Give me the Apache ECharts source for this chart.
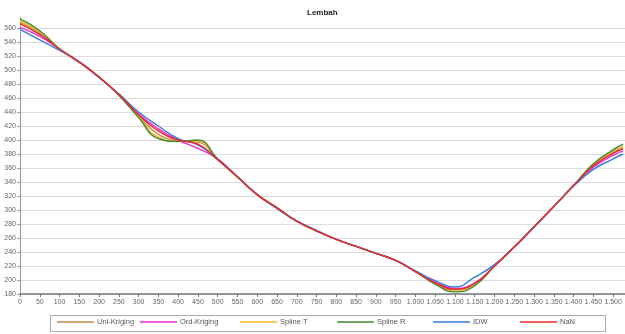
<!DOCTYPE html>
<html>
<head>
<meta charset="utf-8">
<script src="https://cdn.jsdelivr.net/npm/echarts@6/dist/echarts.min.js"></script>
<style>
  html, body { margin: 0; padding: 0; background: #fff; }
  #chart { width: 625px; height: 334px; }
</style>
</head>
<body>
<div id="chart"></div>
<script>
// Distance along the profile (m)
const distance = [0, 50, 100, 150, 200, 250, 300, 350, 400, 450, 500, 550, 600, 650, 700, 750,
  800, 850, 900, 950, 1000, 1050, 1100, 1150, 1200, 1250, 1300, 1350, 1400, 1450, 1500, 1525];

// Elevation per interpolation method
const uniKriging = [568, 553, 530, 511, 490, 464, 434, 408, 399, 397, 372, 347, 322, 303, 284, 270,
  258, 248, 238, 228, 212, 196, 186, 195, 220, 247, 276, 305, 335, 363, 382, 389];
const ordKriging = [561, 548, 530, 511, 490, 465, 437, 416, 400, 388, 373, 347, 322, 303, 284, 270,
  258, 248, 238, 228, 212, 197, 188, 196, 220, 247, 276, 305, 335, 361, 378, 384];
const splineT = [570, 554, 530, 511, 490, 464, 433, 404, 398, 398, 372, 347, 322, 303, 284, 270,
  258, 248, 238, 228, 212, 195, 185, 194, 220, 247, 276, 305, 335, 364, 384, 391];
const splineR = [573, 556, 530, 511, 490, 464, 432, 402, 398, 400, 373, 347, 322, 303, 284, 270,
  258, 248, 238, 228, 212, 194, 183, 192, 220, 247, 276, 305, 335, 366, 386, 394];
const idw = [558, 543, 528, 512, 489, 466, 440, 420, 402, 393, 372, 348, 322, 302, 284, 271,
  258, 248, 238, 228, 213, 199, 190, 204, 222, 247, 276, 305, 334, 358, 373, 380];
const nan = [566, 551, 530, 511, 490, 465, 436, 413, 400, 394, 372, 347, 322, 303, 284, 270,
  258, 248, 238, 228, 212, 196, 187, 195, 220, 247, 276, 305, 335, 363, 381, 387];

const seriesNames = ['Uni-Kriging', 'Ord-Kriging', 'Spline T', 'Spline R', 'IDW', 'NaN'];
const seriesValues = [uniKriging, ordKriging, splineT, splineR, idw, nan];
const seriesColors = ['#c98a4b', '#ea2fd0', '#f4b52c', '#3d8a2c', '#3a78dc', '#ec2a2a'];

// Legend entry left positions
const legendLeft = [57, 140, 240, 337, 433, 520];

function thousands(v) {
  if (v % 50 !== 0) return '';
  const s = String(v);
  return v >= 1000 ? s.slice(0, s.length - 3) + '.' + s.slice(-3) : s;
}

const chart = echarts.init(document.getElementById('chart'), null, { renderer: 'canvas' });

const series = seriesNames.map((name, i) => ({
  name: name,
  type: 'line',
  smooth: 0.5,
  showSymbol: false,
  symbol: 'none',
  data: distance.map((d, k) => [d, seriesValues[i][k]]),
  lineStyle: { color: seriesColors[i], width: 1.4 },
  itemStyle: { color: seriesColors[i] },
  z: 2 + i
}));

const legends = seriesNames.map((name, i) => ({
  data: [name],
  left: legendLeft[i],
  top: 318,
  itemWidth: 37,
  itemHeight: 10,
  itemGap: 4,
  icon: 'path://M0,4.3 L37,4.3 L37,5.7 L0,5.7 Z',
  textStyle: { fontFamily: 'Liberation Sans', fontSize: 7.5, color: '#555', padding: [0, 0, 0, -2] },
  padding: 0
}));

chart.setOption({
  animation: false,
  backgroundColor: '#fff',
  title: {
    text: 'Lembah',
    left: 302,
    top: 4,
    textStyle: { fontFamily: 'Liberation Sans', fontSize: 8, fontWeight: 'bold', color: '#222' }
  },
  legend: legends,
  graphic: [{
    type: 'rect',
    shape: { x: 50.5, y: 315.5, width: 555, height: 16 },
    style: { fill: 'none', stroke: '#aaa', lineWidth: 1 },
    z: -1
  }],
  grid: { left: 20, right: 0, top: 17.5, bottom: 40, containLabel: false },
  xAxis: {
    type: 'value',
    min: 0,
    max: 1530,
    interval: 50,
    axisLine: { lineStyle: { color: '#777', width: 1.5 } },
    axisTick: { show: true, length: 3, lineStyle: { color: '#777' } },
    axisLabel: {
      formatter: thousands,
      showMaxLabel: false,
      fontFamily: 'Liberation Sans', fontSize: 7, color: '#666', margin: 5
    },
    splitLine: { show: false }
  },
  yAxis: {
    type: 'value',
    min: 180,
    max: 575,
    interval: 20,
    axisLine: { show: true, lineStyle: { color: '#999', width: 1 } },
    axisTick: { show: true, length: 3, lineStyle: { color: '#999' } },
    axisLabel: {
      showMaxLabel: false,
      fontFamily: 'Liberation Sans', fontSize: 7, color: '#666', margin: 4
    },
    splitLine: { show: true, showMaxLine: false, lineStyle: { color: '#dcdcdc', width: 1 } }
  },
  series: series
});
</script>
</body>
</html>
